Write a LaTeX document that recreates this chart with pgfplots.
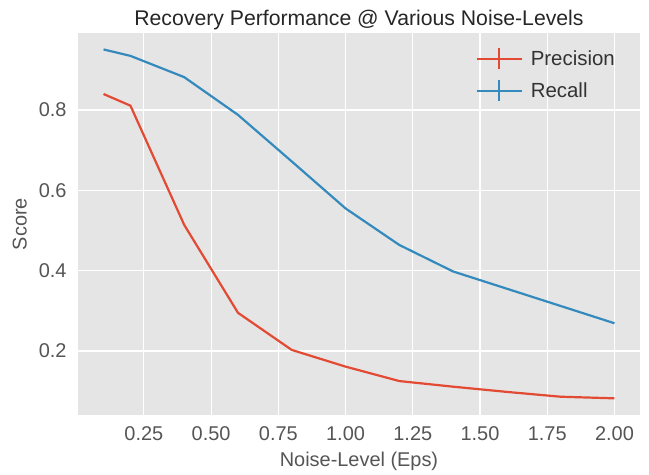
\documentclass[border=0pt]{standalone}
\usepackage{pgfplots}
\pgfplotsset{compat=1.18}
\usepackage{fontspec}
\setmainfont{Liberation Sans}
\definecolor{ggred}{HTML}{E24A33}
\definecolor{ggblue}{HTML}{348ABD}
\definecolor{ggbg}{HTML}{E5E5E5}
\definecolor{gglab}{HTML}{555555}
\begin{document}
\begin{tikzpicture}
\begin{axis}[
  scale only axis,
  width=562bp, height=382bp,
  xmin=0.005, xmax=2.095,
  ymin=0.0405, ymax=0.992,
  axis background/.style={fill=ggbg},
  axis line style={draw=none},
  major tick length=0pt,
  grid=major,
  major grid style={white, line width=1.2bp},
  xtick={0.25,0.5,0.75,1.0,1.25,1.5,1.75,2.0},
  ytick={0.2,0.4,0.6,0.8},
  /pgf/number format/assume math mode=true,
  tick label style={font=\fontsize{20}{24}\selectfont, text=gglab},
  xticklabel style={yshift=-8bp, /pgf/number format/fixed, /pgf/number format/fixed zerofill, /pgf/number format/precision=2},
  yticklabel style={xshift=-8bp, /pgf/number format/fixed, /pgf/number format/fixed zerofill, /pgf/number format/precision=1},
  label style={font=\fontsize{20}{24}\selectfont, text=gglab},
  xlabel style={yshift=-5bp},
  ylabel style={yshift=5bp},
  title style={font=\fontsize{21.3}{24}\selectfont, text=black!85, yshift=-6bp},
  title={Recovery Performance @ Various Noise-Levels},
  xlabel={Noise-Level (Eps)},
  ylabel={Score},
  legend image code/.code={
    \draw[#1] (0bp,0bp) -- (45bp,0bp);
    \draw[#1] (22.5bp,-10.5bp) -- (22.5bp,10.5bp);
  },
  legend style={at={(1,1)}, anchor=north east, draw=none, fill=none,
    font=\fontsize{20.5}{24}\selectfont, text=black!80,
    xshift=-14bp, yshift=-12bp, row sep=9bp, cells={anchor=west},
    nodes={inner xsep=8bp}},
]
\addplot[ggred, line width=2.2bp, mark=none] coordinates {
 (0.1,0.840) (0.2,0.811) (0.4,0.514) (0.6,0.295) (0.8,0.2025) (1.0,0.161)
 (1.2,0.125) (1.4,0.111) (1.6,0.098) (1.8,0.086) (2.0,0.082)};
\addlegendentry{Precision}
\addplot[ggblue, line width=2.2bp, mark=none] coordinates {
 (0.1,0.951) (0.2,0.935) (0.4,0.882) (0.6,0.788) (0.8,0.672) (1.0,0.555)
 (1.2,0.464) (1.4,0.398) (1.6,0.355) (1.8,0.312) (2.0,0.269)};
\addlegendentry{Recall}
\end{axis}
\path[use as bounding box] ([xshift=-78bp,yshift=-56bp]current axis.south west) rectangle ([xshift=9bp,yshift=33bp]current axis.north east);
\end{tikzpicture}
\end{document}
